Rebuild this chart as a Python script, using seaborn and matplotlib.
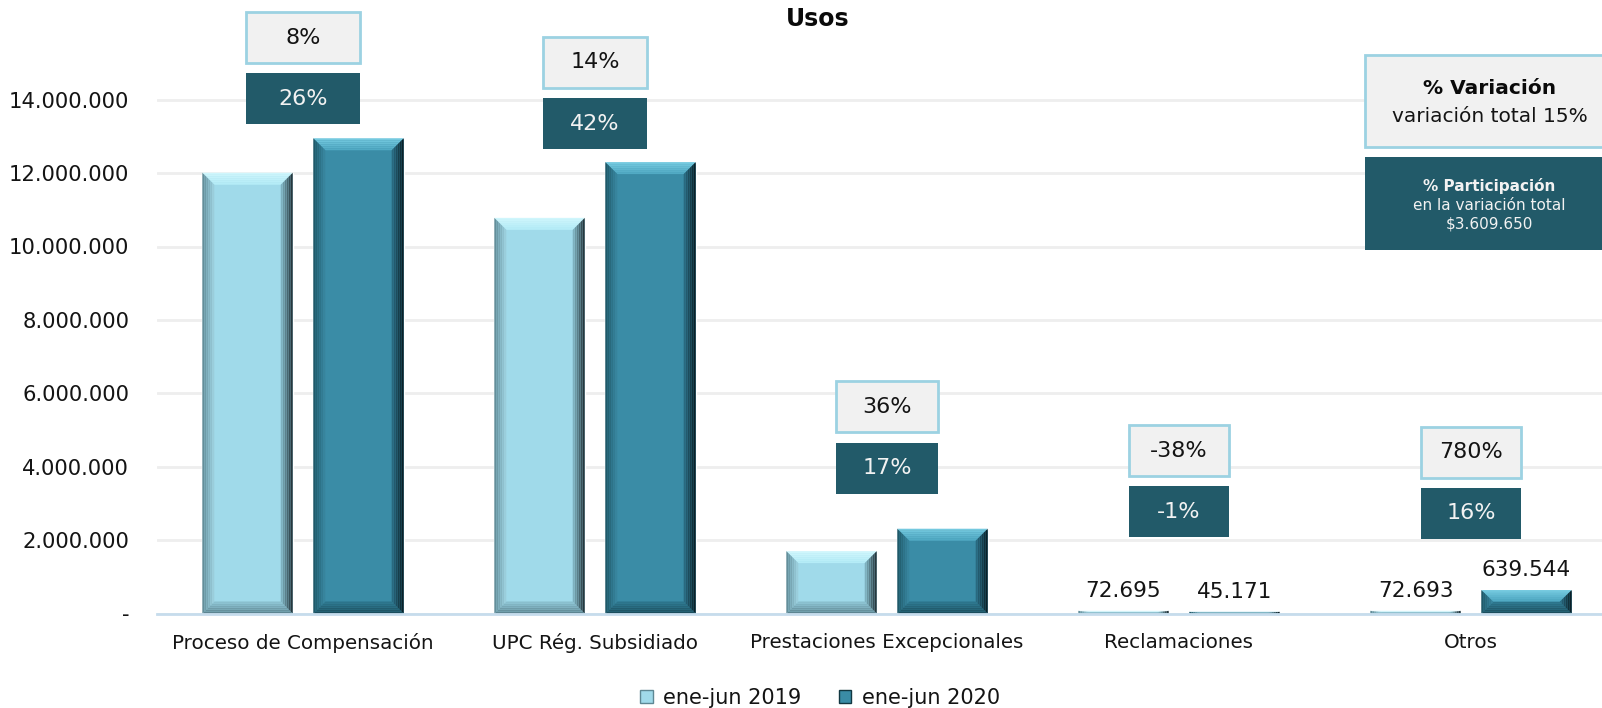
import matplotlib
matplotlib.use("Agg")
import matplotlib.pyplot as plt
from matplotlib.patches import Rectangle, Polygon, Patch
from matplotlib.colors import to_rgb
import numpy as np
import pandas as pd
import seaborn as sns

# ---------------- data ----------------
categories = ["Proceso de Compensación", "UPC Rég. Subsidiado",
              "Prestaciones Excepcionales", "Reclamaciones", "Otros"]
series_names = ["ene-jun 2019", "ene-jun 2020"]
values_2019 = [12010000, 10780000, 1700000, 72695, 72693]
values_2020 = [12950000, 12300000, 2310000, 45171, 639544]
variation_labels = ["8%", "14%", "36%", "-38%", "780%"]
participation_labels = ["26%", "42%", "17%", "-1%", "16%"]
y_ticks = [0, 2000000, 4000000, 6000000, 8000000, 10000000, 12000000, 14000000]
title = "Usos"
legend_var_title = "% Variación"
legend_var_text = "variación total 15%"
legend_part_title = "% Participación"
legend_part_text = ["en la variación total", "$3.609.650"]

# ---------------- layout (not data) ----------------
W, H, DPI = 1602, 708, 100
PX_PER_CAT = 292.0
PX_PER_UNIT_Y = 36.7 / 1e6
var_box_y = [15.69e6, 15.02e6, 5.64e6, 4.44e6, 4.39e6]    # box centres
part_box_y = [14.02e6, 13.35e6, 3.96e6, 2.77e6, 2.73e6]
box_w_px = [114, 104, 102, 100, 100]
box_h_px = 51

c2019 = "#A0DAEA"
c2020 = "#3A8CA6"
dark_box = "#225A69"
light_box = "#F1F1F1"
light_edge = "#9CD2E2"
text_col = "#141414"

df = pd.DataFrame({
    "categoria": categories * 2,
    "periodo": [series_names[0]] * len(categories) + [series_names[1]] * len(categories),
    "valor": values_2019 + values_2020,
})

sns.set_theme(style="white")
plt.rcParams["font.family"] = ["DejaVu Sans"]

fig = plt.figure(figsize=(W / DPI, H / DPI), dpi=DPI)
ax_left = 157 / W
ax_bottom = 1 - 613.5 / H
ax = fig.add_axes([ax_left, ax_bottom, 1 - ax_left, 1 - ax_bottom])

sns.barplot(data=df, x="categoria", y="valor", hue="periodo",
            palette=[c2019, c2020], width=0.76, gap=0.185,
            saturation=1, ax=ax, legend=False, zorder=3)

x_right = -0.5 + (W - 157) / PX_PER_CAT
ax.set_xlim(-0.5, x_right)
y_top = 613.5 / 36.7 * 1e6
ax.set_ylim(0, y_top)

# ---------- bevel on each bar ----------
def lerp(c1, c2, t):
    a, b = np.array(to_rgb(c1)), np.array(to_rgb(c2))
    return tuple(a + (b - a) * t)

def side(outer_a, outer_b, inner_b, inner_a, c_out, c_in, n=6):
    oa, ob, ib, ia = map(np.array, (outer_a, outer_b, inner_b, inner_a))
    for k in range(n):
        t0, t1 = k / n, (k + 1) / n
        p0a, p0b = oa + (ia - oa) * t0, ob + (ib - ob) * t0
        p1a, p1b = oa + (ia - oa) * t1, ob + (ib - ob) * t1
        ax.add_patch(Polygon([p0a, p0b, p1b, p1a], closed=True,
                             facecolor=lerp(c_out, c_in, (k + 0.5) / n),
                             edgecolor="none", zorder=4))

bevel_cols = {
    to_rgb(c2019): dict(top=("#D2F7FD", "#B2EBF6"), left=("#5E8894", "#9FD3E1"),
                        right=("#1E2C31", "#86BCCB"), bottom=("#587F8B", "#8FC5D4")),
    to_rgb(c2020): dict(top=("#78CCE2", "#4DA7C1"), left=("#1D5564", "#3988A1"),
                        right=("#081A20", "#2C7088"), bottom=("#1A4A58", "#2E7890")),
}

bx = 12 / PX_PER_CAT
by_full = 12 / PX_PER_UNIT_Y
for p in list(ax.patches):
    h = p.get_height()
    if h <= 0:
        continue
    x0 = p.get_x()
    x1 = x0 + p.get_width()
    b = min(by_full, h / 2)
    fc = np.array(p.get_facecolor()[:3])
    key = min(bevel_cols.keys(), key=lambda k: np.sum((np.array(k) - fc) ** 2))
    cols = bevel_cols[key]
    side((x0, h), (x1, h), (x1 - bx, h - b), (x0 + bx, h - b), *cols["top"])
    side((x0, 0), (x1, 0), (x1 - bx, b), (x0 + bx, b), *cols["bottom"])
    side((x0, 0), (x0, h), (x0 + bx, h - b), (x0 + bx, b), *cols["left"])
    side((x1, 0), (x1, h), (x1 - bx, h - b), (x1 - bx, b), *cols["right"])

    # value labels for the small bars
    if h < 1e6:
        ax.annotate(f"{int(round(h)):,}".replace(",", "."), (x0 + p.get_width() / 2, h),
                    xytext=(0, 7), textcoords="offset points", ha="center", va="bottom",
                    fontsize=15.5, color=text_col, zorder=6)

# ---------- percentage boxes ----------
box_h = box_h_px / PX_PER_UNIT_Y
for i, cat in enumerate(categories):
    bw = box_w_px[i] / PX_PER_CAT
    ax.add_patch(Rectangle((i - bw / 2, var_box_y[i] - box_h / 2), bw, box_h,
                           facecolor=light_box, edgecolor=light_edge, lw=2, zorder=5,
                           clip_on=False))
    ax.text(i, var_box_y[i], variation_labels[i], ha="center", va="center",
            fontsize=16, color=text_col, zorder=6)
    ax.add_patch(Rectangle((i - bw / 2, part_box_y[i] - box_h / 2), bw, box_h,
                           facecolor=dark_box, edgecolor="none", zorder=5, clip_on=False))
    ax.text(i, part_box_y[i], participation_labels[i], ha="center", va="center",
            fontsize=16, color="#F2F2F2", zorder=6)

# ---------- axes styling ----------
ax.set_yticks(y_ticks)
ax.set_yticklabels(["-" if v == 0 else f"{v:,}".replace(",", ".") for v in y_ticks])
ax.yaxis.grid(True, color="#EEEEEE", lw=2)
ax.xaxis.grid(False)
ax.set_axisbelow(True)
for s in ["top", "right", "left"]:
    ax.spines[s].set_visible(False)
ax.spines["bottom"].set_color("#C6DCEC")
ax.spines["bottom"].set_linewidth(2)
ax.spines["bottom"].set_zorder(7)
ax.tick_params(axis="x", length=0, pad=14, labelsize=14.3, labelcolor=text_col)
ax.tick_params(axis="y", length=0, pad=20, labelsize=15.2, labelcolor=text_col)
ax.set_xlabel("")
ax.set_ylabel("")

# ---------- title ----------
fig.text(818 / W, 1 - 19 / H, title, ha="center", va="center",
         fontsize=17, fontweight="bold", color="#0A0A0A")

# ---------- explanation boxes at right ----------
fig.patches.append(Rectangle((1365 / W, 1 - 147 / H), 300 / W, 92 / H,
                             transform=fig.transFigure, facecolor=light_box,
                             edgecolor=light_edge, lw=2, zorder=5))
fig.patches.append(Rectangle((1365 / W, 1 - 250 / H), 300 / W, 93 / H,
                             transform=fig.transFigure, facecolor=dark_box,
                             edgecolor="none", zorder=5))
fig.text(1490 / W, 1 - 89 / H, legend_var_title, ha="center", va="center",
         fontsize=14.5, fontweight="bold", color="#0A0A0A", zorder=6)
fig.text(1490 / W, 1 - 116 / H, legend_var_text, ha="center", va="center",
         fontsize=14.5, color=text_col, zorder=6)
fig.text(1489 / W, 1 - 186 / H, legend_part_title, ha="center", va="center",
         fontsize=11, fontweight="bold", color="#F2F2F2", zorder=6)
fig.text(1489 / W, 1 - 205 / H, legend_part_text[0], ha="center", va="center",
         fontsize=11, color="#F2F2F2", zorder=6)
fig.text(1489 / W, 1 - 224 / H, legend_part_text[1], ha="center", va="center",
         fontsize=11, color="#F2F2F2", zorder=6)

# ---------- legend ----------
handles = [Patch(facecolor=c2019, edgecolor="#5E8894", lw=1),
           Patch(facecolor=c2020, edgecolor="#123842", lw=1)]
fig.legend(handles, series_names, loc="center", ncol=2, frameon=False,
           bbox_to_anchor=(820 / W, 1 - 698 / H), fontsize=15,
           handlelength=0.6, handleheight=0.6, handletextpad=0.5,
           columnspacing=1.8, labelcolor=text_col)

fig.savefig("out.png", dpi=DPI)
